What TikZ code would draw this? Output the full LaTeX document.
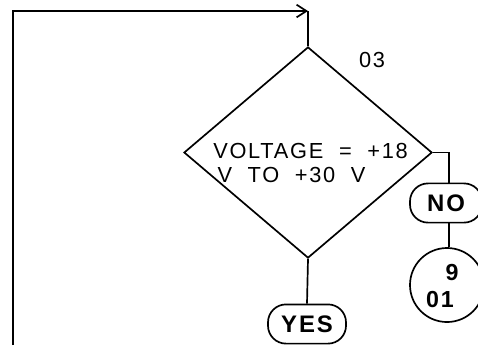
\documentclass[tikz,border=0pt]{standalone}
\usepackage{fontspec}
\usepackage{tikz}
\usetikzlibrary{
  arrows.meta,
  shapes,
  shapes.geometric,
  positioning,
  calc
}
\newfontfamily\plotfont{Liberation Sans}[LetterSpace=8]
\definecolor{fcLine}{HTML}{000000}

\tikzset{
  fcline/.style={line width=1.2pt, draw=fcLine},
  fctext/.style={font=\plotfont\fontsize{15.5}{17}\selectfont, inner sep=0pt},
  fcterm/.style={fcline, rounded corners=0.45cm, minimum height=0.98cm, inner sep=0pt, font=\plotfont\bfseries\fontsize{17}{20}\selectfont}
}

\begin{document}
\begin{tikzpicture}[x=0.025cm, y=-0.025cm]
  \useasboundingbox (0,0) rectangle (478,345);
  % loop back
  \coordinate (loopstart) at (13,345);
  \coordinate (looptop) at (308,11);
  \draw[fcline, -{Straight Barb[length=7pt, width=9pt]}] (loopstart) |- (looptop);
  % decision
  \node[fcline, diamond, minimum width=6.2cm, minimum height=5.275cm, inner sep=0pt] (dec) at (308,152.5) {};
  \draw[fcline] (looptop) -- (dec.north);
  \node[fctext] (decnum) at (372,60) {03};
  \node[fctext, align=left, anchor=west] (dectxt) at (213,163) {VOLTAGE\ \ =\ \ +18\\\hspace{3pt}V\ \ TO\ \ +30\ \ V};
  % no branch
  \node[fcterm, minimum width=1.8cm] (no) at (446,203) {NO};
  \draw[fcline] (dec.east) -| ([xshift=0.075cm]no.north);
  \node[fcline, circle, minimum size=1.85cm, inner sep=0pt] (conn) at (447,285) {};
  \draw[fcline] ([xshift=0.075cm]no.south) -- ([xshift=0.075cm]no.south |- conn.north);
  \node[fctext, font=\plotfont\bfseries\fontsize{16.5}{20}\selectfont] (connA) at (452,272) {9};
  \node[fctext, font=\plotfont\bfseries\fontsize{16.5}{20}\selectfont] (connB) at (440,299) {01};
  % yes branch
  \node[fcterm, minimum width=1.95cm] (yes) at (307,324) {YES};
  \draw[fcline] (dec.south) -- (yes.north);
\end{tikzpicture}
\end{document}
